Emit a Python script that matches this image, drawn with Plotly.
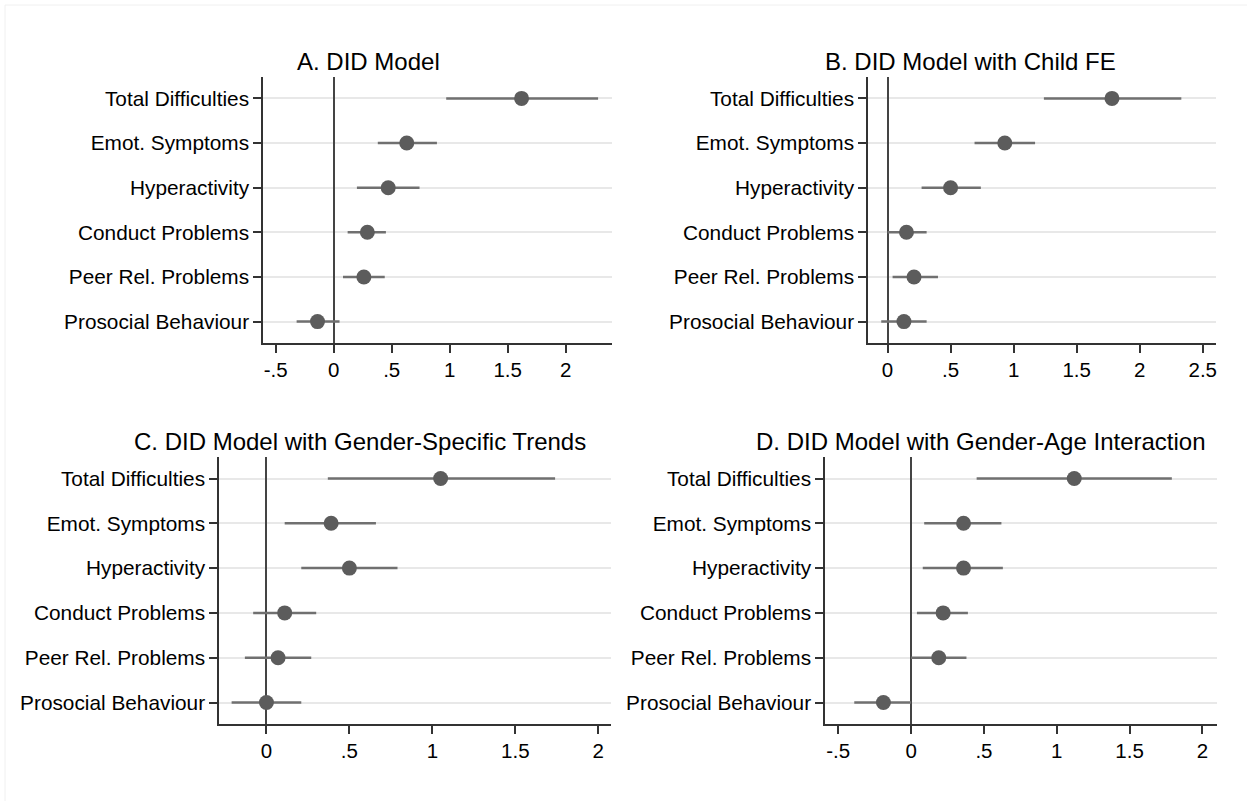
import plotly.graph_objects as go

W, H = 1247, 801

categories = ["Total Difficulties", "Emot. Symptoms", "Hyperactivity",
              "Conduct Problems", "Peer Rel. Problems", "Prosocial Behaviour"]

titles = ["A. DID Model", "B. DID Model with Child FE",
          "C. DID Model with Gender-Specific Trends",
          "D. DID Model with Gender-Age Interaction"]

A_est = [1.62, 0.63, 0.47, 0.29, 0.26, -0.14]
A_lo = [0.97, 0.38, 0.20, 0.12, 0.08, -0.32]
A_hi = [2.28, 0.89, 0.74, 0.45, 0.44, 0.05]

B_est = [1.78, 0.93, 0.50, 0.15, 0.21, 0.13]
B_lo = [1.24, 0.69, 0.27, 0.00, 0.04, -0.05]
B_hi = [2.33, 1.17, 0.74, 0.31, 0.40, 0.31]

C_est = [1.05, 0.39, 0.50, 0.11, 0.07, 0.00]
C_lo = [0.37, 0.11, 0.21, -0.08, -0.13, -0.21]
C_hi = [1.74, 0.66, 0.79, 0.30, 0.27, 0.21]

D_est = [1.12, 0.36, 0.36, 0.22, 0.19, -0.19]
D_lo = [0.45, 0.09, 0.08, 0.04, 0.00, -0.39]
D_hi = [1.79, 0.62, 0.63, 0.39, 0.38, 0.00]

tick_vals = [-0.5, 0, 0.5, 1, 1.5, 2, 2.5]
tick_text = ["-.5", "0", ".5", "1", "1.5", "2", "2.5"]

panels = [
    dict(est=A_est, lo=A_lo, hi=A_hi, xr=[-0.61, 2.40], px=(263, 612), py=(77, 343),
         tx=368, ty=62),
    dict(est=B_est, lo=B_lo, hi=B_hi, xr=[-0.155, 2.605], px=(868, 1216), py=(77, 343),
         tx=970, ty=62),
    dict(est=C_est, lo=C_lo, hi=C_hi, xr=[-0.286, 2.077], px=(219, 611), py=(457, 724),
         tx=360, ty=441),
    dict(est=D_est, lo=D_lo, hi=D_hi, xr=[-0.591, 2.10], px=(825, 1217), py=(457, 724),
         tx=981, ty=441),
]

FONT = "Liberation Sans, Arial, sans-serif"
fig = go.Figure()
layout = dict(width=W, height=H, margin=dict(l=0, r=0, t=0, b=0),
              paper_bgcolor="white", plot_bgcolor="white", showlegend=False,
              font=dict(family=FONT, size=18, color="black"))
annotations = []

for i, p in enumerate(panels):
    n = "" if i == 0 else str(i + 1)
    ypos = list(range(1, len(categories) + 1))
    fig.add_trace(go.Scatter(
        x=p["est"], y=ypos, mode="markers",
        marker=dict(size=15, color="#5c5c5c"),
        error_x=dict(type="data", symmetric=False,
                     array=[h - e for h, e in zip(p["hi"], p["est"])],
                     arrayminus=[e - l for e, l in zip(p["est"], p["lo"])],
                     width=0, thickness=2.5, color="#707070"),
        xaxis="x" + n, yaxis="y" + n))
    x0, x1 = p["px"]
    y0, y1 = p["py"]
    layout["xaxis" + n] = dict(
        domain=[x0 / W, x1 / W], anchor="y" + n, range=p["xr"],
        tickvals=tick_vals, ticktext=tick_text, showgrid=False,
        zeroline=True, zerolinecolor="#444444", zerolinewidth=2,
        showline=True, linecolor="#333333", linewidth=1.5,
        ticks="outside", ticklen=8, tickwidth=1.5, tickcolor="#333333",
        tickfont=dict(size=20.5, family=FONT, color="black"))
    layout["yaxis" + n] = dict(
        domain=[1 - y1 / H, 1 - y0 / H], anchor="x" + n, range=[6.48, 0.52],
        tickvals=ypos, ticktext=categories, showgrid=True,
        gridcolor="#e8e8e8", gridwidth=2, zeroline=False,
        showline=True, linecolor="#333333", linewidth=1.5,
        ticks="outside", ticklen=8, tickwidth=1.5, tickcolor="#333333",
        tickfont=dict(size=20.8, family=FONT, color="black"))
    annotations.append(dict(
        text=titles[i], x=p["tx"] / W, y=1 - p["ty"] / H, xref="paper", yref="paper",
        xanchor="center", yanchor="middle", showarrow=False,
        font=dict(size=24, family=FONT, color="black")))

layout["annotations"] = annotations
layout["shapes"] = [dict(type="rect", xref="paper", yref="paper",
                         x0=5 / W, x1=1.01, y0=-0.01, y1=1 - 5 / H,
                         line=dict(color="#f0f0f0", width=1), layer="below")]
fig.update_layout(**layout)
fig.write_html("out.html", config={"displayModeBar": False},
               post_script="document.body.style.margin='0';document.body.style.overflow='hidden';")
